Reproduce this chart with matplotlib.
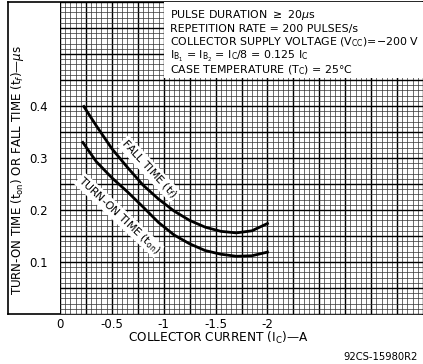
import numpy as np
import matplotlib.pyplot as plt
from matplotlib.patches import Rectangle

# valores (corrente do coletor em A, tempo em us)
ic_fall = [-0.23, -0.35, -0.5, -0.65, -0.8, -0.95, -1.1, -1.25, -1.4, -1.55, -1.7, -1.85, -2.0]
t_fall = [0.399, 0.362, 0.318, 0.282, 0.248, 0.221, 0.198, 0.180, 0.167, 0.159, 0.156, 0.160, 0.174]

ic_on = [-0.22, -0.35, -0.5, -0.65, -0.8, -0.95, -1.1, -1.25, -1.4, -1.55, -1.7, -1.85, -2.0]
t_on = [0.330, 0.293, 0.262, 0.235, 0.206, 0.176, 0.152, 0.135, 0.122, 0.115, 0.111, 0.112, 0.119]

xticks = [0, -0.5, -1, -1.5, -2]
xticklabels = ['0', '-0.5', '-1', '-1.5', '-2']
yticks = [0.1, 0.2, 0.3, 0.4]
yticklabels = ['0.1', '0.2', '0.3', '0.4']

notes = [
    r'PULSE DURATION $\geq$ 20$\mu$s',
    'REPETITION RATE = 200 PULSES/s',
    r'COLLECTOR SUPPLY VOLTAGE (V$_{\mathrm{CC}}$)=$-$200 V',
    r'$\mathrm{I_{B_1}}$ = $\mathrm{I_{B_2}}$ = $\mathrm{I_C}$/8 = 0.125 $\mathrm{I_C}$',
    r'CASE TEMPERATURE (T$_{\mathrm{C}}$) = 25°C',
]

plt.rcParams['font.family'] = 'DejaVu Sans'
plt.rcParams['mathtext.fontset'] = 'dejavusans'

W, H = 423, 364
fig = plt.figure(figsize=(W / 100, H / 100), dpi=100)

# moldura externa
frame = fig.add_axes([8 / W, 50 / H, 415 / W, 312 / H])
frame.set_xticks([])
frame.set_yticks([])
for s in frame.spines.values():
    s.set_linewidth(1.2)

ax = fig.add_axes([60 / W, 50 / H, 363 / W, 312 / H])
ax.set_xlim(0, -3.5)
ax.set_ylim(0, 0.6)

# papel milimetrado
for x in np.arange(0, 3.5001, 0.05):
    heavy = abs(x / 0.25 - round(x / 0.25)) < 1e-6
    ax.axvline(-x, color='black' if heavy else '0.2', lw=1.0 if heavy else 0.5, zorder=1)
for y in np.arange(0, 0.6001, 0.01):
    heavy = abs(y / 0.05 - round(y / 0.05)) < 1e-6
    ax.axhline(y, color='black' if heavy else '0.2', lw=1.0 if heavy else 0.5, zorder=1)

ax.add_patch(Rectangle((-1.0, 0.453), -2.6, 0.2, facecolor='white', edgecolor='none', zorder=2))

ax.plot(ic_fall, t_fall, color='black', lw=2.0, zorder=4)
ax.plot(ic_on, t_on, color='black', lw=2.0, zorder=4)

box = dict(facecolor='white', edgecolor='none', pad=0.8)
ax.text(-0.86, 0.279, r'FALL TIME (t$_f$)', rotation=-47, ha='center', va='center',
        fontsize=7.8, bbox=box, zorder=3)
ax.text(-0.57, 0.190, r'TURN-ON TIME (t$_{\mathrm{on}}$)', rotation=-43, ha='center', va='center',
        fontsize=7.8, bbox=box, zorder=3)

for i, line in enumerate(notes):
    fig.text(170 / W, 1 - (15 + i * 13.8) / H, line, fontsize=7.9, va='center', ha='left')

ax.set_xticks(xticks)
ax.set_xticklabels(xticklabels, fontsize=8.5)
ax.set_yticks(yticks)
ax.set_yticklabels(yticklabels, fontsize=8.5)
ax.tick_params(length=0)
ax.tick_params(axis='y', pad=9)
ax.tick_params(axis='x', pad=3)
for s in ax.spines.values():
    s.set_visible(False)

fig.text(218 / W, 1 - 338 / H, r'COLLECTOR CURRENT (I$_{\mathrm{C}}$)—A', fontsize=8.7,
         ha='center', va='center')
fig.text(18 / W, 1 - 170 / H, r'TURN-ON TIME (t$_{\mathrm{on}}$) OR FALL TIME (t$_f$)—$\mu$s',
         fontsize=8.6, rotation=90, ha='center', va='center')
fig.text(418 / W, 1 - 357 / H, '92CS-15980R2', fontsize=7.2, ha='right', va='center')

fig.savefig('out.png', dpi=100)
